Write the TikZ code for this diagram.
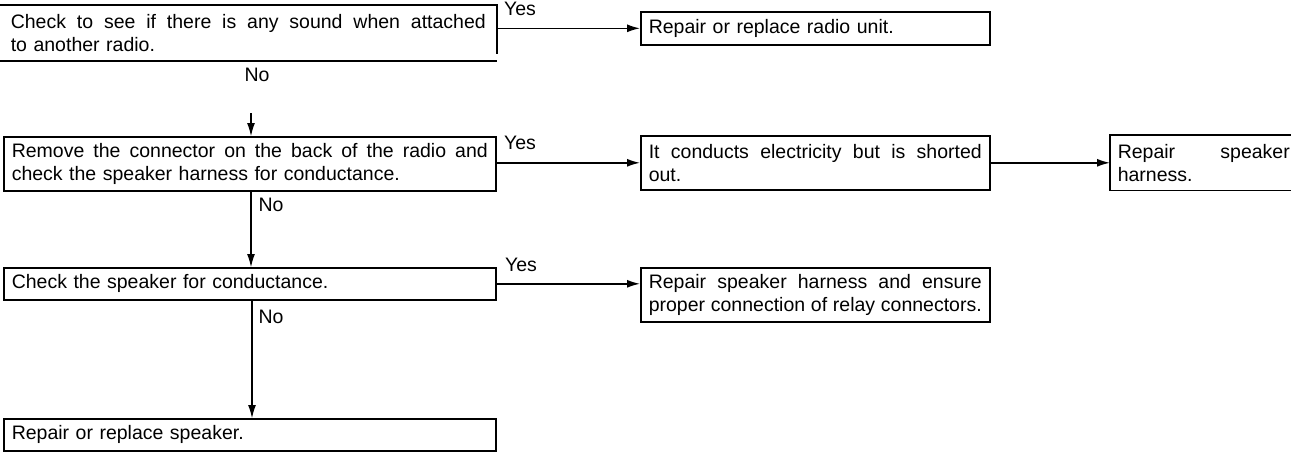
\documentclass[tikz,border=0pt]{standalone}
\usepackage{fontspec}
\setmainfont{Liberation Sans}
\usetikzlibrary{arrows.meta}
\newcommand\jline[2]{\hbox to #1{\spaceskip=.28em plus 1fil minus .1em\relax #2}}
\begin{document}
\begin{tikzpicture}[x=1pt,y=-1pt,
  box/.style={draw, line width=1.6pt, inner xsep=8pt, inner ysep=0pt, align=left,
    font=\fontsize{19.5}{22.5}\selectfont, anchor=north west},
  lbl/.style={font=\fontsize{19.5}{22.5}\selectfont, inner sep=0pt},
  arr/.style={line width=1.4pt, -{Latex[length=13pt,width=8pt]}}]
\useasboundingbox (0,0) rectangle (1291,451);
\coordinate (edge) at (1291,0);
% boxes
\node[box, draw=none, inner xsep=10pt, text width=475pt, minimum height=54pt] (b1) at (0,5)
  {\jline{475pt}{Check to see if there is any sound when attached}\\to another radio.};
\draw[line width=2.2pt] (b1.north west) -- (b1.north east) -- ([yshift=7pt]b1.south east);
\draw[line width=2.2pt] (b1.south west) -- (b1.south east);
\node[box, text width=333pt, minimum height=33pt] (r1) at (640,11) {Repair or replace radio unit.};
\node[box, text width=476pt, minimum height=54pt] (b2) at (3,136)
  {\jline{476pt}{Remove the connector on the back of the radio and}\\check the speaker harness for conductance.};
\node[box, text width=333pt, minimum height=54pt] (r2) at (640,135)
  {\jline{333pt}{It conducts electricity but is shorted}\\out.};
\node[box, draw=none, inner xsep=7pt, text width=172pt, minimum height=54pt] (r3) at (1110,135)
  {\jline{172pt}{Repair speaker}\\harness.};
\draw[line width=1.6pt] (r3.north west -| edge) -- (r3.north west) -- (r3.south west) -- (r3.south west -| edge);
\node[box, text width=476pt, minimum height=32pt] (b3) at (3,267) {Check the speaker for conductance.};
\node[box, text width=333pt, minimum height=54pt] (r4) at (640,267)
  {\jline{333pt}{Repair speaker harness and ensure}\\\jline{333pt}{proper connection of relay connectors.}};
\node[box, text width=476pt, minimum height=32pt] (b4) at (3,418) {Repair or replace speaker.};
% labels
\node[lbl] (yes1) at (520,9) {Yes};
\node[lbl] (yes2) at (520,143) {Yes};
\node[lbl] (yes3) at (521,265) {Yes};
\node[lbl] (no1) at (257,75) {No};
\node[lbl] (no2) at (271,205) {No};
\node[lbl] (no3) at (271,317) {No};
% connectors
\coordinate (t1) at (251,113);
\coordinate (x2) at (251,0);
\coordinate (x3) at (252,0);
\draw[arr] (b1.east |- r1.west) -- (r1.west);
\draw[arr, line width=1.1pt] (t1) -- (t1 |- b2.north);
\draw[arr] (b2.east |- r2.west) -- (r2.west);
\draw[arr] (r2.east) -- (r3.west);
\draw[arr, line width=1.1pt] (b2.south -| x2) -- (b3.north -| x2);
\draw[arr] (b3.east) -- (b3.east -| r4.west);
\draw[arr, line width=1.1pt] (b3.south -| x3) -- (b4.north -| x3);
\end{tikzpicture}
\end{document}
